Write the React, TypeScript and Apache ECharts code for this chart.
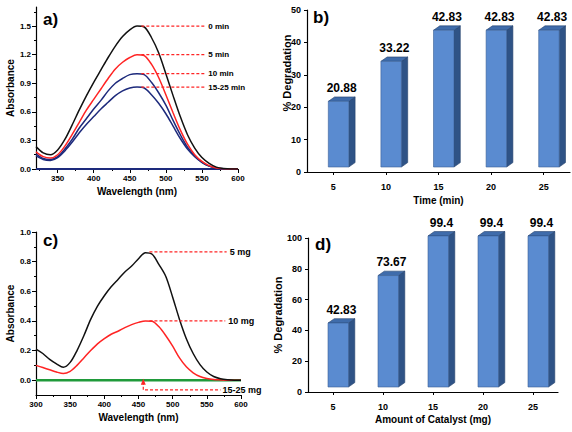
import React, { useEffect, useRef } from 'react';
import * as echarts from 'echarts';

// ---------- Panel a: UV-Vis spectra vs time ----------
const wavelengthA = [320, 330, 340, 350, 360, 370, 380, 390, 400, 410, 420, 430, 440, 450, 460, 470, 480, 490, 500, 510, 520, 530, 540, 550, 560, 570, 580, 590, 600];
const abs0min = [0.235, 0.17, 0.15, 0.2, 0.31, 0.46, 0.62, 0.77, 0.91, 1.04, 1.17, 1.29, 1.39, 1.46, 1.5, 1.49, 1.38, 1.22, 1.0, 0.77, 0.55, 0.36, 0.22, 0.12, 0.06, 0.02, 0.005, 0, 0];
const abs5min = [0.18, 0.13, 0.115, 0.15, 0.24, 0.36, 0.49, 0.62, 0.73, 0.84, 0.95, 1.05, 1.12, 1.17, 1.2, 1.19, 1.1, 0.96, 0.78, 0.59, 0.41, 0.26, 0.15, 0.08, 0.035, 0.01, 0.003, 0, 0];
const abs10min = [0.16, 0.11, 0.1, 0.13, 0.21, 0.31, 0.43, 0.53, 0.63, 0.72, 0.82, 0.9, 0.95, 0.99, 1.0, 0.99, 0.91, 0.8, 0.67, 0.51, 0.36, 0.23, 0.14, 0.07, 0.03, 0.01, 0.002, 0, 0];
const abs15min = [0.14, 0.1, 0.09, 0.12, 0.19, 0.28, 0.38, 0.47, 0.55, 0.63, 0.7, 0.77, 0.82, 0.85, 0.86, 0.85, 0.78, 0.69, 0.58, 0.45, 0.32, 0.21, 0.13, 0.07, 0.03, 0.01, 0.002, 0, 0];
const baselineA = [[320, 0], [600, 0]];
const xTicksA = [350, 400, 450, 500, 550, 600];
const yTicksA = [0, 0.3, 0.6, 0.9, 1.2, 1.5];
// annotation leader lines: [label, level, x start, x end]
const annotA: [string, number, number, number][] = [
  ['0 min', 1.5, 466, 556],
  ['5 min', 1.2, 466, 556],
  ['10 min', 1.0, 466, 556],
  ['15-25 min', 0.86, 466, 556],
];

// ---------- Panel b: degradation vs time ----------
const timeCats = ['5', '10', '15', '20', '25'];
const degTime = [20.88, 33.22, 42.83, 42.83, 42.83];

// ---------- Panel c: UV-Vis spectra vs catalyst amount ----------
const wavelengthC = [300, 310, 320, 330, 340, 350, 360, 370, 380, 390, 400, 410, 420, 430, 440, 450, 460, 470, 480, 490, 500, 510, 520, 530, 540, 550, 560, 570, 580, 590, 600];
const abs5mg = [0.21, 0.18, 0.14, 0.11, 0.087, 0.12, 0.2, 0.3, 0.41, 0.5, 0.57, 0.63, 0.68, 0.73, 0.77, 0.82, 0.86, 0.85, 0.78, 0.7, 0.56, 0.41, 0.28, 0.18, 0.105, 0.055, 0.025, 0.01, 0.003, 0, 0];
const abs10mg = [0.1, 0.085, 0.07, 0.055, 0.045, 0.06, 0.1, 0.15, 0.2, 0.245, 0.28, 0.31, 0.33, 0.355, 0.375, 0.39, 0.4, 0.398, 0.36, 0.3, 0.23, 0.15, 0.09, 0.05, 0.025, 0.012, 0.005, 0.002, 0, 0, 0];
const abs15to25mg = [[300, 0], [600, 0]];
const yTicksC = [0, 0.2, 0.4, 0.6, 0.8, 1.0];
const annotC: [string, number, number, number][] = [
  ['5 mg', 0.866, 466, 579],
  ['10 mg', 0.4, 466, 577],
];
// arrow leader for 15-25 mg: points (x, y) from arrow tip to label end
const arrowC = [[457, -0.01], [457, -0.066], [570, -0.066]];

// ---------- Panel d: degradation vs catalyst ----------
const catalystCats = ['5', '10', '15', '20', '25'];
const degCatalyst = [42.83, 73.67, 99.4, 99.4, 99.4];

const FONT = '"Liberation Sans", Arial, sans-serif';
const RED = '#ff2424';
const NAVY = '#1d2a7c';

const zip = (xs: number[], ys: number[]) => xs.map((x, i) => [x, ys[i]]);

function bar3D(values: number[]) {
  return (params: any, api: any) => {
    const idx = api.value(0);
    const val = api.value(1);
    const base = api.coord([idx, 0]);
    const top = api.coord([idx, val]);
    const cx = base[0];
    const fl = cx - 5;
    const fr = cx + 15.5;
    const dx = 6.3;
    const dy = 4.4;
    const yt = top[1] - 3;
    const yb = base[1] - 5;
    return {
      type: 'group',
      children: [
        {
          type: 'polygon',
          shape: { points: [[fr, yt], [fr + dx, yt - dy], [fr + dx, yb - dy], [fr, yb]] },
          style: { fill: '#2f5386', stroke: '#25426c', lineWidth: 0.6 },
        },
        {
          type: 'polygon',
          shape: { points: [[fl, yt], [fl + dx, yt - dy], [fr + dx, yt - dy], [fr, yt]] },
          style: { fill: '#3f6cab', stroke: '#25426c', lineWidth: 0.6 },
        },
        {
          type: 'rect',
          shape: { x: fl, y: yt, width: fr - fl, height: yb - yt },
          style: { fill: '#5a8bd0', stroke: '#3a5f95', lineWidth: 0.6 },
        },
        {
          type: 'text',
          x: (fl + fr + dx) / 2,
          y: yt - dy - 9,
          style: {
            text: String(values[params.dataIndex]),
            align: 'center',
            verticalAlign: 'middle',
            fill: '#000',
            fontSize: 12,
            fontWeight: 'bold',
            fontFamily: FONT,
          },
        },
      ],
    };
  };
}

const axisLineStyle = { show: true, onZero: false, lineStyle: { color: '#000', width: 1.2 } };
const tickLbl = (size: number) => ({ color: '#000', fontSize: size, fontWeight: 'bold' as const, fontFamily: FONT });
const nameStyle = (size: number) => ({ color: '#000', fontSize: size, fontWeight: 'bold' as const, fontFamily: FONT });

function leader(name: string, level: number, x0: number, x1: number, xi: number, yi: number, size: number, dist: number) {
  return {
    type: 'line', name, xAxisIndex: xi, yAxisIndex: yi, silent: true,
    showSymbol: false, symbol: 'none', smooth: false, z: 5,
    data: [[x0, level], [x1, level]],
    lineStyle: { color: RED, width: 1.2, type: [3, 2] },
    endLabel: {
      show: true, formatter: name, distance: dist, color: '#000',
      fontSize: size, fontWeight: 'bold', fontFamily: FONT,
    },
  };
}

export default function App() {
  const ref = useRef<HTMLDivElement>(null);
  useEffect(() => {
    if (!ref.current) return;
    const chart = echarts.init(ref.current, null, { renderer: 'svg' });

    const lineCommon = { type: 'line', showSymbol: false, symbol: 'none', smooth: 0.3 };

    const option: any = {
      animation: false,
      backgroundColor: '#fff',
      textStyle: { fontFamily: FONT },
      grid: [
        { left: 36, top: 7, width: 202, height: 162 },
        { left: 307, top: 10, width: 263, height: 162 },
        { left: 36, top: 232, width: 205, height: 163 },
        { left: 308, top: 238, width: 250, height: 154 },
      ],
      xAxis: [
        {
          type: 'value', gridIndex: 0, min: 320, max: 600,
          axisLine: axisLineStyle,
          axisTick: { show: true, length: 4, customValues: xTicksA, lineStyle: { color: '#000' } },
          minorTick: { show: true, splitNumber: 2, length: 2, lineStyle: { color: '#000' } },
          axisLabel: { ...tickLbl(8), margin: 5, interval: 0, showMaxLabel: true, customValues: xTicksA },
          splitLine: { show: false },
          name: 'Wavelength (nm)', nameLocation: 'middle', nameGap: 17, nameTextStyle: nameStyle(10),
        },
        {
          type: 'category', gridIndex: 1, data: timeCats,
          axisLine: axisLineStyle,
          axisTick: { show: true, alignWithLabel: true, length: 3, lineStyle: { color: '#000' } },
          axisLabel: { ...tickLbl(9), margin: 10 },
          name: 'Time (min)', nameLocation: 'middle', nameGap: 23, nameTextStyle: nameStyle(10),
        },
        {
          type: 'value', gridIndex: 2, min: 300, max: 600, interval: 50,
          axisLine: axisLineStyle,
          axisTick: { show: true, length: 4, lineStyle: { color: '#000' } },
          minorTick: { show: true, splitNumber: 2, length: 2, lineStyle: { color: '#000' } },
          axisLabel: { ...tickLbl(8), margin: 5 },
          splitLine: { show: false },
          name: 'Wavelength (nm)', nameLocation: 'middle', nameGap: 17, nameTextStyle: nameStyle(10),
        },
        {
          type: 'category', gridIndex: 3, data: catalystCats,
          axisLine: axisLineStyle,
          axisTick: { show: true, alignWithLabel: true, length: 3, lineStyle: { color: '#000' } },
          axisLabel: { ...tickLbl(9), margin: 10 },
          name: 'Amount of Catalyst (mg)', nameLocation: 'middle', nameGap: 22, nameTextStyle: nameStyle(10),
        },
      ],
      yAxis: [
        {
          type: 'value', gridIndex: 0, min: 0, max: 1.7, interval: 0.3,
          axisLine: axisLineStyle,
          axisTick: { show: true, length: 4, customValues: yTicksA, lineStyle: { color: '#000' } },
          minorTick: { show: true, splitNumber: 2, length: 2, lineStyle: { color: '#000' } },
          axisLabel: { ...tickLbl(8), margin: 5, interval: 0, hideOverlap: false, customValues: yTicksA, formatter: (v: number) => v.toFixed(1) },
          splitLine: { show: false },
          name: 'Absorbance', nameLocation: 'middle', nameGap: 20, nameTextStyle: nameStyle(10),
        },
        {
          type: 'value', gridIndex: 1, min: 0, max: 50, interval: 10,
          axisLine: axisLineStyle,
          axisTick: { show: true, length: 3, lineStyle: { color: '#000' } },
          axisLabel: { ...tickLbl(9), margin: 6 },
          splitLine: { show: false },
        },
        {
          type: 'value', gridIndex: 2, min: -0.1, max: 1.0,
          axisLine: axisLineStyle,
          axisTick: { show: true, length: 4, customValues: yTicksC, lineStyle: { color: '#000' } },
          minorTick: { show: true, splitNumber: 2, length: 2, lineStyle: { color: '#000' } },
          axisLabel: {
            ...tickLbl(8), margin: 5, interval: 0, showMinLabel: true, showMaxLabel: true, hideOverlap: false,
            customValues: yTicksC, formatter: (v: number) => v.toFixed(1),
          },
          splitLine: { show: false },
          name: 'Absorbance', nameLocation: 'middle', nameGap: 20, nameTextStyle: nameStyle(10),
        },
        {
          type: 'value', gridIndex: 3, min: 0, max: 100, interval: 20,
          axisLine: axisLineStyle,
          axisTick: { show: true, length: 3, lineStyle: { color: '#000' } },
          axisLabel: { ...tickLbl(9), margin: 6 },
          splitLine: { show: false },
          name: '% Degradation', nameLocation: 'middle', nameGap: 20, nameTextStyle: nameStyle(11),
        },
      ],
      graphic: [
        { type: 'text', left: 43, top: 11, z: 100, style: { text: 'a)', fontSize: 17, fontWeight: 'bold', fontFamily: FONT, fill: '#000' } },
        { type: 'text', left: 313, top: 9, z: 100, style: { text: 'b)', fontSize: 17, fontWeight: 'bold', fontFamily: FONT, fill: '#000' } },
        { type: 'text', left: 43, top: 232, z: 100, style: { text: 'c)', fontSize: 17, fontWeight: 'bold', fontFamily: FONT, fill: '#000' } },
        { type: 'text', left: 315, top: 236, z: 100, style: { text: 'd)', fontSize: 17, fontWeight: 'bold', fontFamily: FONT, fill: '#000' } },
        {
          type: 'text', x: 287, y: 73, rotation: Math.PI / 2, z: 100,
          style: { text: '% Degradation', align: 'center', verticalAlign: 'middle', fontSize: 11, fontWeight: 'bold', fontFamily: FONT, fill: '#000' },
        },
      ],
      series: [
        // Panel a
        { ...lineCommon, name: 'baseline a', xAxisIndex: 0, yAxisIndex: 0, data: baselineA, smooth: false, lineStyle: { color: NAVY, width: 2 } },
        { ...lineCommon, name: '15-25 min', xAxisIndex: 0, yAxisIndex: 0, data: zip(wavelengthA, abs15min), lineStyle: { color: NAVY, width: 1.5 } },
        { ...lineCommon, name: '10 min', xAxisIndex: 0, yAxisIndex: 0, data: zip(wavelengthA, abs10min), lineStyle: { color: NAVY, width: 1.5 } },
        { ...lineCommon, name: '5 min', xAxisIndex: 0, yAxisIndex: 0, data: zip(wavelengthA, abs5min), lineStyle: { color: RED, width: 1.5 } },
        { ...lineCommon, name: '0 min', xAxisIndex: 0, yAxisIndex: 0, data: zip(wavelengthA, abs0min), lineStyle: { color: '#111', width: 1.5 } },
        ...annotA.map(([n, lv, x0, x1]) => leader(n, lv, x0, x1, 0, 0, 8, 2)),
        // Panel b
        {
          type: 'custom', name: 'Degradation vs time', xAxisIndex: 1, yAxisIndex: 1,
          renderItem: bar3D(degTime), data: degTime.map((v, i) => [i, v]), encode: { x: 0, y: 1 }, clip: false,
        },
        // Panel c
        { ...lineCommon, name: '15-25 mg baseline', xAxisIndex: 2, yAxisIndex: 2, data: abs15to25mg, smooth: false, lineStyle: { color: '#1f9a3a', width: 2.5 } },
        { ...lineCommon, name: '10 mg curve', xAxisIndex: 2, yAxisIndex: 2, data: zip(wavelengthC, abs10mg), lineStyle: { color: RED, width: 1.5 } },
        { ...lineCommon, name: '5 mg curve', xAxisIndex: 2, yAxisIndex: 2, data: zip(wavelengthC, abs5mg), lineStyle: { color: '#111', width: 1.5 } },
        ...annotC.map(([n, lv, x0, x1]) => leader(n, lv, x0, x1, 2, 2, 9, 3)),
        {
          type: 'line', name: '15-25 mg', xAxisIndex: 2, yAxisIndex: 2, silent: true, z: 5,
          showSymbol: true, symbol: 'none', smooth: false,
          data: arrowC.map((p, i) => (i === 0
            ? { value: p, symbol: 'triangle', symbolSize: [5, 6], itemStyle: { color: RED } }
            : { value: p })),
          lineStyle: { color: RED, width: 1.2, type: [3, 2] },
          endLabel: { show: true, formatter: '15-25 mg', distance: 2, color: '#000', fontSize: 9, fontWeight: 'bold', fontFamily: FONT },
        },
        // Panel d
        {
          type: 'custom', name: 'Degradation vs catalyst', xAxisIndex: 3, yAxisIndex: 3,
          renderItem: bar3D(degCatalyst), data: degCatalyst.map((v, i) => [i, v]), encode: { x: 0, y: 1 }, clip: false,
        },
      ],
    };
    chart.setOption(option);
    return () => chart.dispose();
  }, []);
  return <div ref={ref} style={{ position: 'fixed', left: 0, top: 0, width: 572, height: 432, background: '#fff' }} />;
}
